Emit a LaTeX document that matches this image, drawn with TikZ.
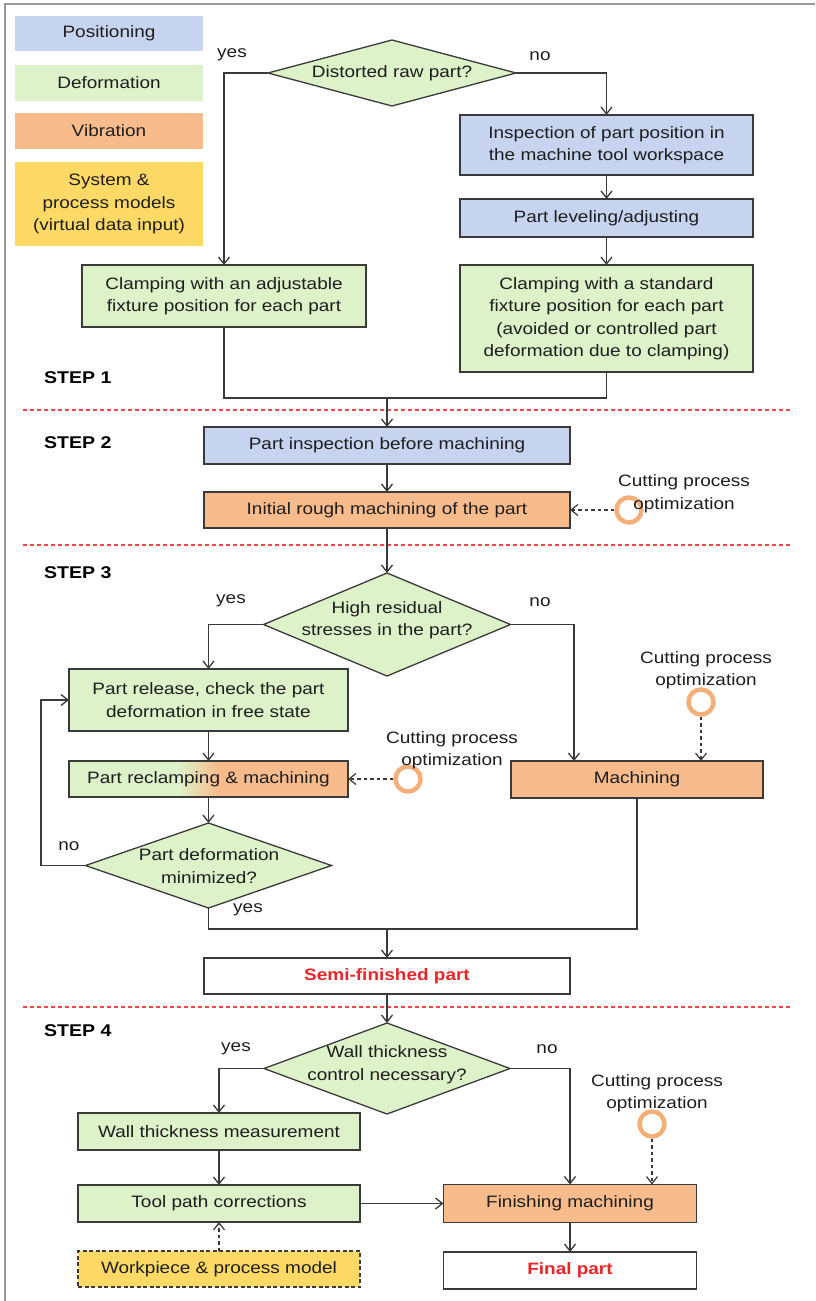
\documentclass[tikz,border=0pt]{standalone}
\usepackage{fontspec}
\setmainfont{Liberation Sans}[FakeStretch=1.15]
\usetikzlibrary{arrows.meta,shapes.geometric,calc}
\definecolor{cblue}{HTML}{C6D4F0}
\definecolor{cgreen}{HTML}{DDF2C8}
\definecolor{corange}{HTML}{F8BB8C}
\definecolor{cyellow}{HTML}{FFD966}
\definecolor{ringc}{HTML}{F5B07A}
\definecolor{boxc}{HTML}{3A3A3A}
\definecolor{txt}{HTML}{1E1E1E}
\definecolor{redtxt}{HTML}{E8262A}
\definecolor{sepred}{HTML}{F04848}
\tikzset{
  box/.style={draw=boxc, line width=1.3pt, inner sep=2pt, align=center, text=txt, outer sep=0pt},
  leg/.style={inner sep=2pt, align=center, text=txt, minimum width=188pt},
  diam/.style={diamond, draw=boxc, line width=1.3pt, fill=cgreen, inner sep=0pt, outer sep=0pt},
  ln/.style={draw=boxc, line width=1.3pt, -{Straight Barb[length=7pt,width=11pt]}},
  pl/.style={draw=boxc, line width=1.3pt},
  dln/.style={draw=boxc, line width=1.2pt, dash pattern=on 3.5pt off 3pt, -{Straight Barb[length=7pt,width=11pt]}},
  ring/.style={circle, draw=ringc, line width=4.5pt, minimum size=25pt, inner sep=0pt},
  opt/.style={align=center, text=txt, inner sep=0pt},
  steplbl/.style={anchor=west, font=\fontsize{17}{20}\bfseries, text=black, inner sep=0pt},
  yn/.style={text=txt, inner sep=0pt},
  sep/.style={draw=sepred, line width=1.3pt, dash pattern=on 4pt off 3pt}
}
\begin{document}
\begin{tikzpicture}[x=1pt,y=-1pt, font=\fontsize{16.5}{22.5}\selectfont]
\useasboundingbox (0,0) rectangle (815,1301);
\fill[white] (0,0) rectangle (815,1301);
% frame
\draw[gray!80, line width=2pt] (4,4) -- (815,4);
\draw[gray!80, line width=2pt] (5,4) -- (5,1301);

% legend
\node[leg, fill=cblue, minimum height=35pt] (leg1) at (109,33.5) {Positioning};
\node[leg, fill=cgreen, minimum height=36pt] (leg2) at (109,83) {Deformation};
\node[leg, fill=corange, minimum height=36pt] (leg3) at (109,131) {Vibration};
\node[leg, fill=cyellow, minimum height=84pt] (leg4) at (109,204) {System \&\\process models\\(virtual data input)};

% separators
\draw[sep] (23,410) -- (793,410);
\draw[sep] (23,545) -- (793,545);
\draw[sep] (23,1007) -- (793,1007);

% step labels
\node[steplbl] (s1) at (44,378) {STEP 1};
\node[steplbl] (s2) at (44,443) {STEP 2};
\node[steplbl] (s3) at (44,573) {STEP 3};
\node[steplbl] (s4) at (44,1031) {STEP 4};

% STEP 1
\node[diam, minimum width=248pt, minimum height=66pt] (d1) at (392,73) {};
\node[opt] (d1t) at (392,73) {Distorted raw part?};
\node[box, fill=cblue, minimum width=293pt, minimum height=60pt] (ins) at (606.5,145) {Inspection of part position in\\the machine tool workspace};
\node[box, fill=cblue, minimum width=293pt, minimum height=38pt] (lev) at (606.5,218) {Part leveling/adjusting};
\node[box, fill=cgreen, minimum width=284pt, minimum height=62pt] (cadj) at (224,296) {Clamping with an adjustable\\fixture position for each part};
\node[box, fill=cgreen, minimum width=293pt, minimum height=107pt] (cstd) at (606.5,318.5) {Clamping with a standard\\fixture position for each part\\(avoided or controlled part\\deformation due to clamping)};
\node[yn] (y1) at (232,55) {yes};
\node[yn] (n1) at (540,56) {no};
\coordinate (m1) at (387,398);

\draw[ln] (d1.west) -| (cadj.north);
\draw[ln] (d1.east) -| (ins.north);
\draw[ln] (ins.south) -- (lev.north);
\draw[ln] (lev.south) -- (cstd.north);
\draw[pl] (cadj.south) |- (m1);
\draw[pl] (cstd.south) |- (m1);

% STEP 2
\node[box, fill=cblue, minimum width=366pt, minimum height=37pt] (pinsp) at (387,445.5) {Part inspection before machining};
\node[box, fill=corange, minimum width=366pt, minimum height=36pt] (rough) at (387,510) {Initial rough machining of the part};
\node[ring] (c1) at (629,510) {};
\node[opt] (o1) at (684,493.5) {Cutting process\\optimization};
\draw[ln] (m1) -- (pinsp.north);
\draw[ln] (pinsp.south) -- (rough.north);
\draw[dln] (c1.west) -- (rough.east);

% STEP 3
\node[diam, minimum width=247pt, minimum height=103pt] (d2) at (387,624.5) {};
\node[opt] (d2t) at (387,620) {High residual\\stresses in the part?};
\node[yn] (y2) at (231,601) {yes};
\node[yn] (n2) at (540,602) {no};
\node[box, fill=cgreen, minimum width=279pt, minimum height=62pt] (rel) at (208.5,700) {Part release, check the part\\deformation in free state};
% gradient fill for reclamping box
\fill[cgreen] (69,761) rectangle (180,797);
\shade[left color=cgreen, right color=corange] (179.5,761) rectangle (218,797);
\fill[corange] (217.5,761) rectangle (348,797);
\node[box, minimum width=279pt, minimum height=36pt] (recl) at (208.5,779) {Part reclamping \& machining};
\node[box, fill=corange, minimum width=252pt, minimum height=37pt] (mach) at (637,779.5) {Machining};
\node[ring] (c2) at (408,779) {};
\node[opt] (o2) at (452,750) {Cutting process\\optimization};
\node[ring] (c3) at (701,702) {};
\node[opt] (o3) at (706,670) {Cutting process\\optimization};
\node[diam, minimum width=246pt, minimum height=85pt] (d3) at (208.5,865.5) {};
\node[opt] (d3t) at (209,866) {Part deformation\\minimized?};
\node[yn] (n3) at (69,846) {no};
\node[yn] (y3) at (248,910) {yes};
\coordinate (mx) at (574,0);
\coordinate (lpx) at (41,0);
\coordinate (j) at (387,929);

\draw[ln] (rough.south) -- (d2.north);
\draw[ln] (d2.west) -| (rel.north);
\draw[ln] (d2.east) -| (mach.north -| mx);
\draw[ln] (rel.south) -- (recl.north);
\draw[ln] (recl.south) -- (d3.north);
\draw[dln] (c2.west) -- (recl.east);
\draw[dln] (c3.south) -- (c3 |- mach.north);
\draw[ln] (d3.west) -- (d3.west -| lpx) |- (rel.west);
\draw[pl] (d3.south) |- (j);
\draw[pl] (mach.south) |- (j);

% semi-finished
\node[box, fill=white, minimum width=366pt, minimum height=36pt, text=redtxt, font=\fontsize{16.5}{22.5}\bfseries] (semi) at (387,976) {Semi-finished part};
\draw[ln] (j) -- (semi.north);

% STEP 4
\node[diam, minimum width=246pt, minimum height=91pt] (d4) at (387,1068.5) {};
\node[opt] (d4t) at (387,1064.5) {Wall thickness\\control necessary?};
\node[yn] (y4) at (236,1049) {yes};
\node[yn] (n4) at (547,1049) {no};
\node[box, fill=cgreen, minimum width=282pt, minimum height=37pt] (wall) at (219,1131.5) {Wall thickness measurement};
\node[box, fill=cgreen, minimum width=282pt, minimum height=37pt] (tool) at (219,1203.5) {Tool path corrections};
\node[box, fill=corange, minimum width=253pt, minimum height=38pt] (fin) at (570,1203.5) {Finishing machining};
\node[box, fill=white, minimum width=253pt, minimum height=37pt, text=redtxt, font=\fontsize{16.5}{22.5}\bfseries] (final) at (570,1270.5) {Final part};
\node[box, fill=cyellow, dash pattern=on 4pt off 2.5pt, minimum width=282pt, minimum height=36pt] (wpm) at (219,1269) {Workpiece \& process model};
\node[ring] (c4) at (652,1124) {};
\node[opt] (o4) at (657,1093) {Cutting process\\optimization};

\draw[ln] (semi.south) -- (d4.north);
\draw[ln] (d4.west) -| (wall.north);
\draw[ln] (d4.east) -| (fin.north);
\draw[ln] (wall.south) -- (tool.north);
\draw[ln] (tool.east) -- (fin.west);
\draw[ln] (fin.south) -- (final.north);
\draw[dln] (wpm.north) -- (tool.south);
\draw[dln] (c4.south) -- (c4 |- fin.north);
\end{tikzpicture}
\end{document}
